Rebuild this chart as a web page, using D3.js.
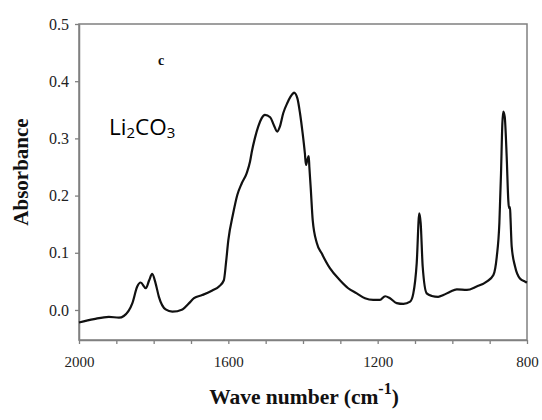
<!DOCTYPE html>
<html>
<head>
<meta charset="utf-8">
<script src="https://cdn.jsdelivr.net/npm/d3@7"></script>
<style>
  html, body { margin: 0; padding: 0; background: #fff; }
  svg { display: block; }
</style>
</head>
<body>
<div id="chart"></div>
<script>
// FTIR spectrum of Li2CO3
var waveNumbers = [
  2000, 1960, 1920, 1893, 1880, 1857, 1844, 1835, 1821, 1812, 1804, 1795, 1786,
  1768, 1750, 1723, 1705, 1692, 1670, 1643, 1625, 1612, 1606, 1600, 1587, 1576,
  1564, 1551, 1542, 1537, 1529, 1520, 1511, 1502, 1488, 1478, 1469, 1462, 1453,
  1442, 1426, 1424, 1415, 1408, 1401, 1395, 1392, 1388.5, 1384.7, 1383, 1379,
  1374, 1363, 1350, 1328, 1301, 1279, 1256, 1234, 1212, 1194, 1180, 1167, 1149,
  1131, 1113, 1104.5, 1095.4, 1088.5, 1084.8, 1079.4, 1068.7, 1055, 1038, 1024,
  1006, 988, 961, 935, 908, 890, 881, 874, 869.6, 866, 863.5, 859.7, 854.4,
  850.1, 848.2, 845.5, 844.2, 841, 832, 819, 805, 800
];
var absorbance = [
  -0.022, -0.016, -0.012, -0.0135, -0.0105, 0.012, 0.041, 0.048, 0.038, 0.052,
  0.063, 0.047, 0.023, 0.001, -0.003, 0.001, 0.012, 0.0205, 0.026, 0.034, 0.041,
  0.052, 0.084, 0.122, 0.169, 0.201, 0.2215, 0.239, 0.259, 0.277, 0.300, 0.3205,
  0.335, 0.341, 0.337, 0.323, 0.312, 0.3205, 0.344, 0.362, 0.379, 0.380, 0.370,
  0.344, 0.309, 0.274, 0.2535, 0.262, 0.269, 0.2505, 0.210, 0.157, 0.117, 0.099,
  0.073, 0.052, 0.038, 0.029, 0.0205, 0.0175, 0.0175, 0.024, 0.0205, 0.012,
  0.0105, 0.0145, 0.029, 0.082, 0.169, 0.152, 0.076, 0.029, 0.0245, 0.023,
  0.026, 0.032, 0.036, 0.035, 0.041, 0.0495, 0.061, 0.093, 0.152, 0.239, 0.326,
  0.347, 0.338, 0.268, 0.192, 0.178, 0.180, 0.161, 0.111, 0.076, 0.055, 0.0495,
  0.048
];

var xTicks = [2000, 1900, 1800, 1700, 1600, 1500, 1400, 1300, 1200, 1100, 1000, 900, 800];
var xTickLabels = [2000, 1600, 1200, 800];
var yTicks = [0.0, 0.1, 0.2, 0.3, 0.4, 0.5];

var width = 542, height = 420;
var margin = { top: 24, right: 15, bottom: 80, left: 79 };

var svg = d3.select("#chart").append("svg")
  .attr("width", width)
  .attr("height", height);

// wave number axis runs right to left, as usual for IR spectra
var x = d3.scaleLinear()
  .domain([2000, 800])
  .range([margin.left, width - margin.right]);

var y = d3.scaleLinear()
  .domain([-0.0525, 0.5])
  .range([height - margin.bottom, margin.top]);

var axisColor = "#808080";
var serif = "'Liberation Serif', 'Times New Roman', serif";

// The frame around the plot:
svg.append("rect")
  .attr("x", x(2000))
  .attr("y", y(0.5))
  .attr("width", x(800) - x(2000))
  .attr("height", y(-0.0525) - y(0.5))
  .attr("fill", "none")
  .attr("stroke", axisColor)
  .attr("stroke-width", 1.5);

var xAxis = svg.append("g")
  .attr("transform", "translate(0," + y(-0.0525) + ")")
  .call(d3.axisBottom(x)
    .tickValues(xTicks)
    .tickSize(4)
    .tickSizeOuter(0)
    .tickPadding(12)
    .tickFormat(function(d) { return xTickLabels.indexOf(d) >= 0 ? d : ""; }));

var yAxis = svg.append("g")
  .attr("transform", "translate(" + x(2000) + ",0)")
  .call(d3.axisLeft(y)
    .tickValues(yTicks)
    .tickSize(4)
    .tickSizeOuter(0)
    .tickPadding(6)
    .tickFormat(d3.format(".1f")));

[xAxis, yAxis].forEach(function(g) {
  g.select(".domain").attr("stroke", axisColor).attr("stroke-width", 1.5);
  g.selectAll(".tick line").attr("stroke", axisColor).attr("stroke-width", 1.3);
  g.selectAll(".tick text")
    .attr("fill", "#222")
    .style("font-family", serif)
    .style("font-size", "15px");
});
yAxis.selectAll(".tick text").style("font-size", "16px");

// The spectrum itself:
var line = d3.line()
  .x(function(d) { return x(d[0]); })
  .y(function(d) { return y(d[1]); })
  .curve(d3.curveMonotoneX);

svg.append("path")
  .datum(d3.zip(waveNumbers, absorbance))
  .attr("d", line)
  .attr("fill", "none")
  .attr("stroke", "#111")
  .attr("stroke-width", 2.2)
  .attr("stroke-linejoin", "round");

// Axis titles:
var xTitle = svg.append("text")
  .attr("x", 304)
  .attr("y", 404)
  .attr("text-anchor", "middle")
  .style("font-family", serif)
  .style("font-weight", "bold")
  .style("font-size", "21.5px")
  .attr("fill", "#111");
xTitle.append("tspan").text("Wave number (cm");
xTitle.append("tspan").attr("dy", -10).style("font-size", "16px").text("-1");
xTitle.append("tspan").attr("dy", 10).text(")");

svg.append("text")
  .attr("transform", "translate(28,172) rotate(-90)")
  .attr("text-anchor", "middle")
  .style("font-family", serif)
  .style("font-weight", "bold")
  .style("font-size", "21px")
  .attr("fill", "#111")
  .text("Absorbance");

// Panel letter and compound label:
svg.append("text")
  .attr("x", 161)
  .attr("y", 65)
  .attr("text-anchor", "middle")
  .style("font-family", serif)
  .style("font-weight", "bold")
  .style("font-size", "14px")
  .attr("fill", "#111")
  .text("c");

var label = svg.append("text")
  .attr("x", 109)
  .attr("y", 135)
  .style("font-family", "'Open Sans', 'Noto Sans', sans-serif")
  .style("font-size", "22.5px")
  .attr("fill", "#000");
label.append("tspan").text("Li");
label.append("tspan").attr("dy", 3).style("font-size", "15px").text("2");
label.append("tspan").attr("dy", -3).text("CO");
label.append("tspan").attr("dy", 3).style("font-size", "15px").text("3");
</script>
</body>
</html>
